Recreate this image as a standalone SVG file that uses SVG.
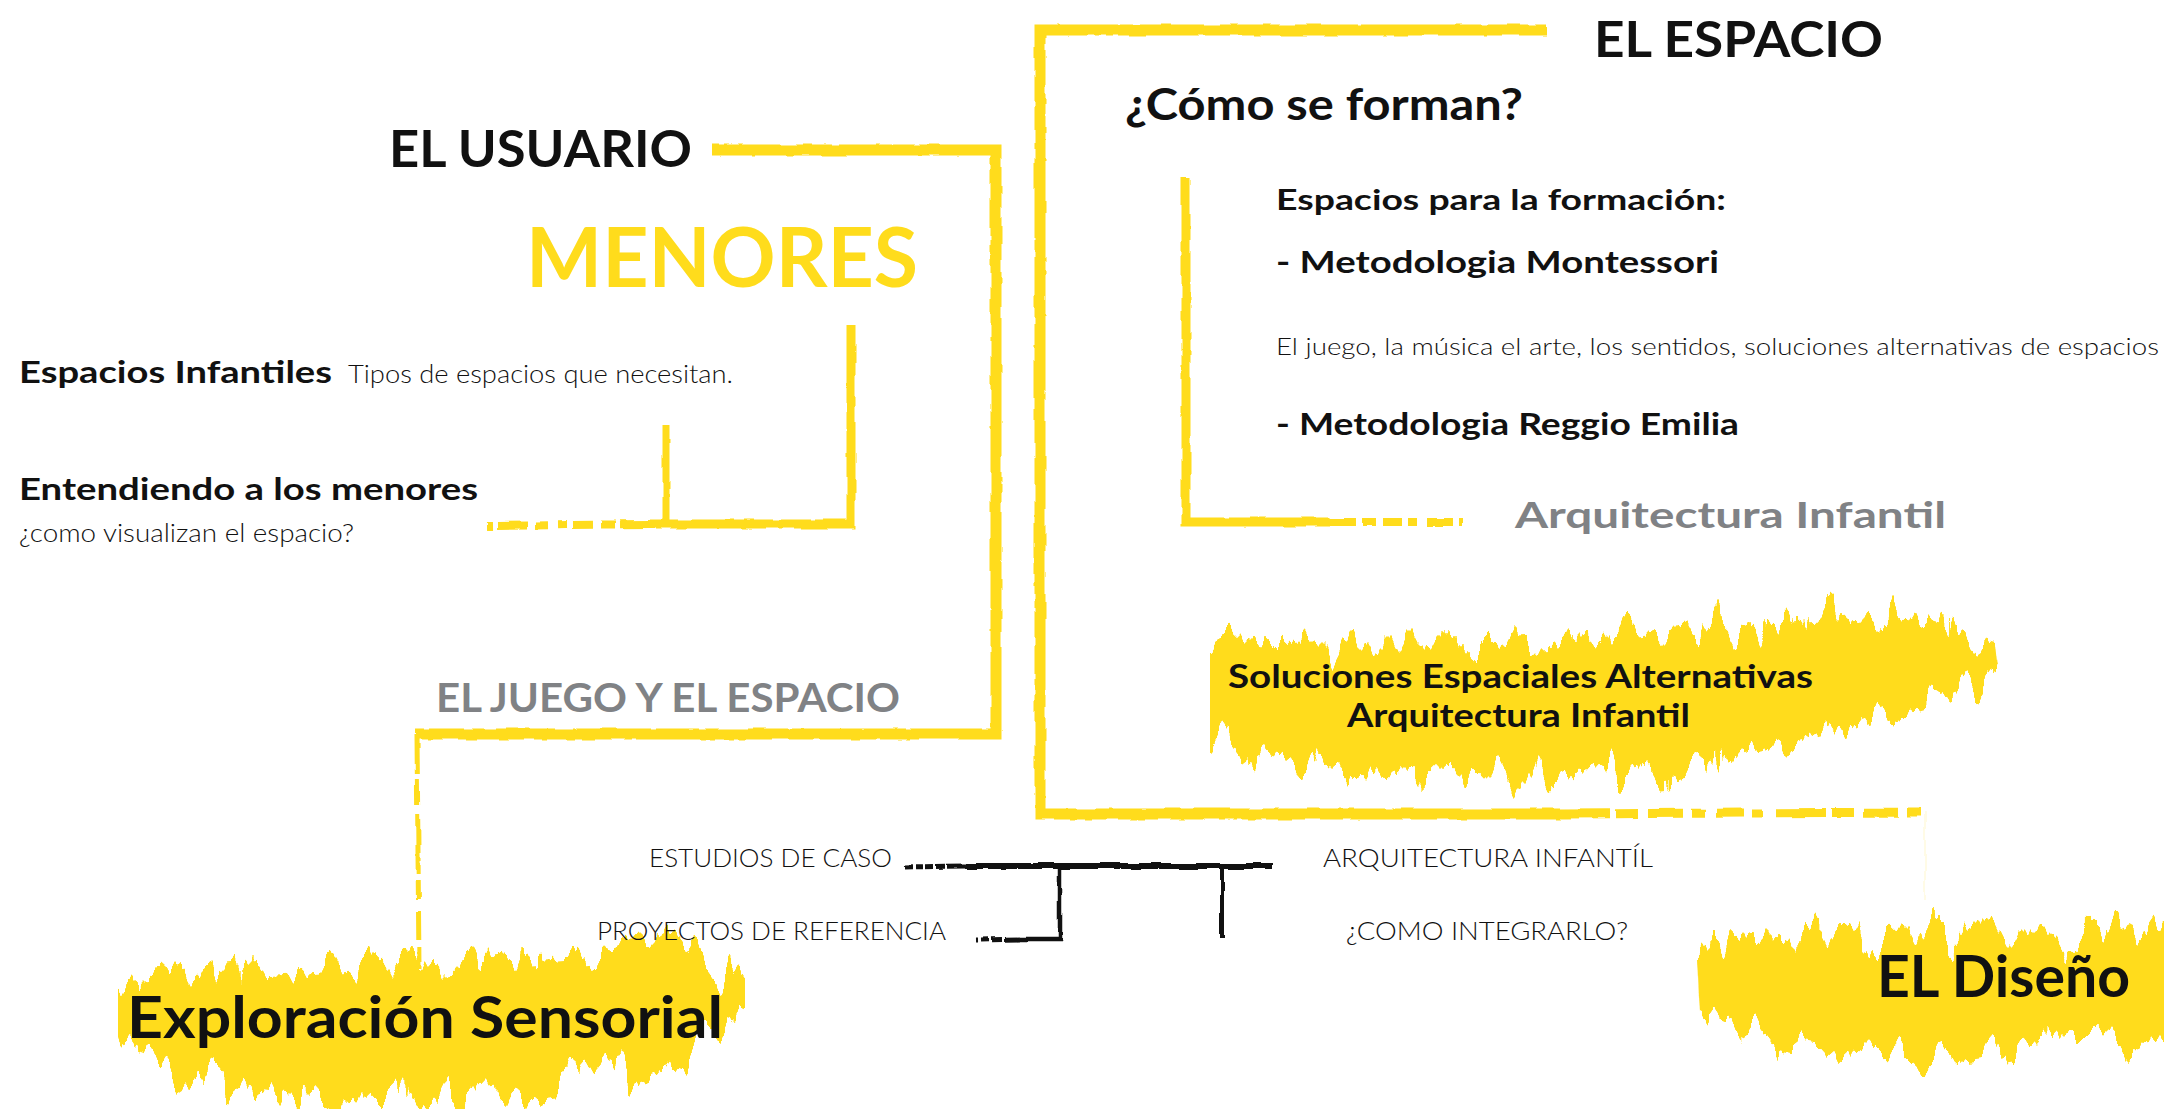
<svg xmlns="http://www.w3.org/2000/svg" width="2164" height="1109" viewBox="0 0 2164 1109">
  <defs>
    <style>
      .t { font-family: Lato, "Open Sans", "Liberation Sans", sans-serif; fill: #111111; }
      .b { font-weight: 700; }
      .l { font-weight: 300; }
      .g { fill: #808285; font-weight: 700; }
      .y { fill: #FFDC1C; font-weight: 700; }
      .yl { fill: none; stroke: #FFDC1C; stroke-linecap: butt; stroke-linejoin: miter; }
      .bl { fill: none; stroke: #111111; stroke-linecap: butt; stroke-linejoin: miter; }
      .brush { fill: #FFDC1C; }
    </style>
    <filter id="rough" filterUnits="userSpaceOnUse" x="0" y="0" width="2164" height="1109" color-interpolation-filters="sRGB">
      <feTurbulence type="fractalNoise" baseFrequency="0.04" numOctaves="3" seed="7" result="n"/>
      <feDisplacementMap in="SourceGraphic" in2="n" scale="4" xChannelSelector="R" yChannelSelector="G"/>
    </filter>
    <filter id="brushf" filterUnits="userSpaceOnUse" x="0" y="0" width="2164" height="1109" color-interpolation-filters="sRGB">
      <feTurbulence type="fractalNoise" baseFrequency="0.055 0.008" numOctaves="4" seed="11" result="n"/>
      <feColorMatrix in="n" type="matrix" values="0 0 0 0 0.5  0 1 0 0 0  0 0 0 0 0  0 0 0 0 1" result="n2"/>
      <feDisplacementMap in="SourceGraphic" in2="n2" scale="85" xChannelSelector="R" yChannelSelector="G"/>
    </filter>
    <linearGradient id="fadeDown" gradientUnits="userSpaceOnUse" x1="0" y1="734" x2="0" y2="970">
      <stop offset="0" stop-color="#FFDC1C" stop-opacity="1"/>
      <stop offset="1" stop-color="#FFDC1C" stop-opacity="0.25"/>
    </linearGradient>
    <linearGradient id="fadeR1" gradientUnits="userSpaceOnUse" x1="1560" y1="0" x2="1926" y2="0">
      <stop offset="0" stop-color="#FFDC1C" stop-opacity="1"/>
      <stop offset="1" stop-color="#FFDC1C" stop-opacity="0.3"/>
    </linearGradient>
    <linearGradient id="fadeL1" gradientUnits="userSpaceOnUse" x1="650" y1="0" x2="488" y2="0">
      <stop offset="0" stop-color="#FFDC1C" stop-opacity="1"/>
      <stop offset="1" stop-color="#FFDC1C" stop-opacity="0.2"/>
    </linearGradient>
    <linearGradient id="fadeR2" gradientUnits="userSpaceOnUse" x1="1330" y1="0" x2="1462" y2="0">
      <stop offset="0" stop-color="#FFDC1C" stop-opacity="1"/>
      <stop offset="1" stop-color="#FFDC1C" stop-opacity="0.2"/>
    </linearGradient>
    <linearGradient id="fadeBk1" gradientUnits="userSpaceOnUse" x1="965" y1="0" x2="905" y2="0">
      <stop offset="0" stop-color="#111111" stop-opacity="1"/>
      <stop offset="1" stop-color="#111111" stop-opacity="0.2"/>
    </linearGradient>
    <linearGradient id="fadeBk2" gradientUnits="userSpaceOnUse" x1="1020" y1="0" x2="976" y2="0">
      <stop offset="0" stop-color="#111111" stop-opacity="1"/>
      <stop offset="1" stop-color="#111111" stop-opacity="0.2"/>
    </linearGradient>
  </defs>

  <rect x="0" y="0" width="2164" height="1109" fill="#ffffff"/>

  <!-- brush strokes behind labels -->
  <g id="brush-soluciones" filter="url(#brushf)">
    <path class="brush" d="M 1210 645 C 1300 640, 1450 645, 1550 640 C 1650 632, 1800 622, 1900 615 L 1995 640 L 1998 668 C 1950 690, 1900 700, 1850 722 C 1800 745, 1700 765, 1600 775 C 1500 785, 1350 772, 1300 763 C 1250 755, 1215 745, 1210 737 Z"/>
  </g>
  <g id="brush-exploracion" filter="url(#brushf)">
    <path class="brush" d="M 118 983 C 200 975, 300 967, 400 962 C 500 957, 600 948, 660 943 L 745 975 L 745 1010 C 700 1040, 660 1060, 600 1080 C 520 1095, 450 1100, 380 1100 C 300 1098, 220 1085, 190 1075 C 150 1062, 120 1050, 118 1040 Z"/>
  </g>
  <g id="brush-diseno" filter="url(#brushf)">
    <path class="brush" d="M 1697 943 C 1800 937, 1950 933, 2100 935 L 2164 905 L 2164 1047 C 2100 1040, 2050 1040, 2000 1050 C 1950 1060, 1880 1062, 1820 1055 C 1760 1045, 1720 1025, 1700 1013 Z"/>
  </g>

  <!-- connectors -->
  <g id="connectors" filter="url(#rough)">
    <path class="yl" stroke-width="11" d="M 712 150 L 996 150 L 996 734 L 416 734"/>
    <path class="yl" stroke="url(#fadeDown)" stroke-width="5" stroke-dasharray="40 5 26 9 60 7 18 12 30 6" d="M 417 734 L 419 968"/>
    <path class="yl" stroke-width="11" d="M 1546 30 L 1040 30 L 1040 814 L 1560 814"/>
    <path class="yl" stroke="url(#fadeR1)" stroke-width="9" stroke-dasharray="50 6 22 10 35 8 14 12 26 9 10 14" d="M 1560 814 L 1926 812"/>
    <path class="yl" stroke="#FFDC1C" stroke-opacity="0.15" stroke-width="1.5" d="M 1925 812 L 1925 900"/>
    <path class="yl" stroke-width="9" d="M 851 325 L 851 524 L 650 524"/>
    <path class="yl" stroke="url(#fadeL1)" stroke-width="8" stroke-dasharray="30 5 14 8 20 6 9 10 12 8" d="M 650 524 L 488 526"/>
    <path class="yl" stroke-width="7" d="M 666 425 L 666 520"/>
    <path class="yl" stroke-width="9" d="M 1186 177 L 1186 522 L 1330 522"/>
    <path class="yl" stroke="url(#fadeR2)" stroke-width="8" stroke-dasharray="26 6 14 8 18 6 9 10" d="M 1330 522 L 1462 522"/>
    <path class="bl" stroke-width="6" d="M 965 866 L 1272 866"/>
    <path class="bl" stroke="url(#fadeBk1)" stroke-width="5" stroke-dasharray="18 2 10 3 8 2 6 3" d="M 965 866 L 905 867"/>
    <path class="bl" stroke-width="4.5" d="M 1060 866 L 1060 939 L 1020 939"/>
    <path class="bl" stroke="url(#fadeBk2)" stroke-width="5" stroke-dasharray="16 2 10 3 8 3" d="M 1020 939 L 976 940"/>
    <path class="bl" stroke-width="4" d="M 1222 866 L 1222 937"/>
  </g>

  <!-- nodes -->
  <g id="el-usuario">
    <text class="t b" x="389" y="167" font-size="51" textLength="303" lengthAdjust="spacingAndGlyphs">EL USUARIO</text>
  </g>
  <g id="menores">
    <text class="t y" x="526" y="287" font-size="83" textLength="392" lengthAdjust="spacingAndGlyphs">MENORES</text>
  </g>
  <g id="espacios-infantiles">
    <text class="t b" x="19" y="383" font-size="31" textLength="313" lengthAdjust="spacingAndGlyphs">Espacios Infantiles</text>
    <text class="t l" x="348" y="383" font-size="25" textLength="385" lengthAdjust="spacingAndGlyphs">Tipos de espacios que necesitan.</text>
  </g>
  <g id="entendiendo">
    <text class="t b" x="19" y="500" font-size="31" textLength="459" lengthAdjust="spacingAndGlyphs">Entendiendo a los menores</text>
    <text class="t l" x="19" y="542" font-size="26" textLength="335" lengthAdjust="spacingAndGlyphs">¿como visualizan el espacio?</text>
  </g>
  <g id="el-juego">
    <text class="t g" x="436" y="712" font-size="40" textLength="464" lengthAdjust="spacingAndGlyphs">EL JUEGO Y EL ESPACIO</text>
  </g>
  <g id="el-espacio">
    <text class="t b" x="1594" y="57" font-size="50" textLength="289" lengthAdjust="spacingAndGlyphs">EL ESPACIO</text>
  </g>
  <g id="como-se-forman">
    <text class="t b" x="1125" y="120" font-size="44" textLength="398" lengthAdjust="spacingAndGlyphs">¿Cómo se forman?</text>
  </g>
  <g id="espacios-formacion">
    <text class="t b" x="1276" y="210" font-size="29" textLength="450" lengthAdjust="spacingAndGlyphs">Espacios para la formación:</text>
    <text class="t b" x="1276" y="273" font-size="31" textLength="443" lengthAdjust="spacingAndGlyphs">- Metodologia Montessori</text>
    <text class="t l" x="1276" y="355" font-size="23" textLength="883" lengthAdjust="spacingAndGlyphs">El juego, la música el arte, los sentidos, soluciones alternativas de espacios</text>
    <text class="t b" x="1276" y="435" font-size="31" textLength="463" lengthAdjust="spacingAndGlyphs">- Metodologia Reggio Emilia</text>
  </g>
  <g id="arquitectura-infantil">
    <text class="t g" x="1515" y="528" font-size="37" textLength="431" lengthAdjust="spacingAndGlyphs">Arquitectura Infantil</text>
  </g>
  <g id="soluciones">
    <text class="t b" x="1228" y="688" font-size="32" textLength="585" lengthAdjust="spacingAndGlyphs">Soluciones Espaciales Alternativas</text>
    <text class="t b" x="1347" y="727" font-size="32" textLength="343" lengthAdjust="spacingAndGlyphs">Arquitectura Infantil</text>
  </g>
  <g id="estudios-de-caso">
    <text class="t l" x="649" y="867" font-size="25" textLength="243" lengthAdjust="spacingAndGlyphs">ESTUDIOS DE CASO</text>
  </g>
  <g id="proyectos-de-referencia">
    <text class="t l" x="597" y="940" font-size="25" textLength="349" lengthAdjust="spacingAndGlyphs">PROYECTOS DE REFERENCIA</text>
  </g>
  <g id="arquitectura-infantil-2">
    <text class="t l" x="1323" y="867" font-size="25" textLength="330" lengthAdjust="spacingAndGlyphs">ARQUITECTURA INFANTÍL</text>
  </g>
  <g id="como-integrarlo">
    <text class="t l" x="1346" y="940" font-size="25" textLength="282" lengthAdjust="spacingAndGlyphs">¿COMO INTEGRARLO?</text>
  </g>
  <g id="exploracion-sensorial">
    <text class="t b" x="127" y="1038" font-size="57" textLength="596" lengthAdjust="spacingAndGlyphs">Exploración Sensorial</text>
  </g>
  <g id="el-diseno">
    <text class="t b" x="1877" y="997" font-size="58" textLength="253" lengthAdjust="spacingAndGlyphs">EL Diseño</text>
  </g>
</svg>
